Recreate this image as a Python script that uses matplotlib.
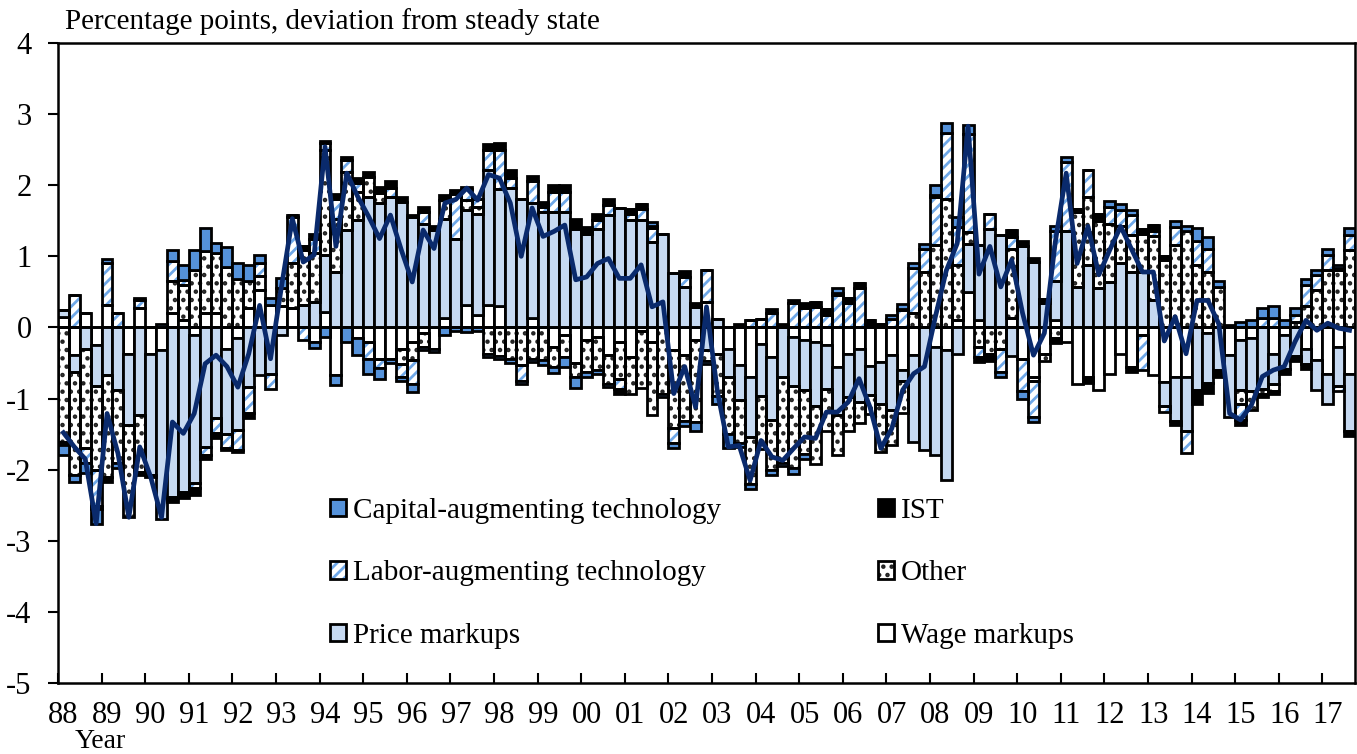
import numpy as np
import matplotlib
matplotlib.use("Agg")
import matplotlib.pyplot as plt
from matplotlib.patches import Patch

plt.rcParams['font.family'] = ['Liberation Serif', 'DejaVu Serif']
plt.rcParams['hatch.linewidth'] = 2.0
plt.rcParams['axes.unicode_minus'] = False

# 1988Q1 .. 2017Q3, quarterly contributions (percentage points)
year_labels = ['88', '89', '90', '91', '92', '93', '94', '95', '96', '97', '98', '99', '00', '01',
               '02', '03', '04', '05', '06', '07', '08', '09', '10', '11', '12', '13', '14', '15',
               '16', '17']

capital = [-0.14, -0.10, -0.15, -0.20, 0.06, -0.07, 0.00, 0.03, 0.00, 0.05,
           0.16, 0.21, 0.28, 0.33, 0.14, 0.28, 0.22, 0.23, 0.12, 0.10,
           0.15, 0.00, 0.00, -0.09, -0.14, -0.14, -0.20, -0.24, -0.20, -0.15,
           -0.06, -0.07, -0.12, -0.05, -0.05, -0.10, -0.05, -0.06, -0.05, -0.04,
           -0.05, -0.05, -0.03, -0.05, -0.07, -0.09, -0.14, -0.15, -0.07, -0.05,
           -0.05, 0.00, 0.00, 0.00, 0.05, -0.05, -0.07, -0.07, -0.12, -0.05,
           -0.10, -0.20, -0.05, -0.07, 0.00, -0.07, -0.05, -0.09, -0.07, 0.00,
           0.00, 0.07, 0.00, 0.00, 0.00, 0.00, 0.05, 0.07, 0.07, 0.07,
           0.14, 0.14, 0.15, 0.12, 0.00, 0.00, -0.07, 0.00, -0.12, -0.07,
           0.00, 0.07, 0.07, 0.00, 0.00, 0.00, 0.09, 0.09, 0.07, 0.00,
           0.00, 0.00, 0.08, 0.07, 0.19, 0.16, 0.09, 0.03, 0.08, 0.10,
           0.14, 0.17, 0.10, 0.10, 0.08, 0.07, 0.09, 0.05, 0.10]
ist = [0.00, 0.00, 0.00, -0.05, -0.07, 0.00, 0.00, -0.05, -0.03, 0.00,
       -0.07, -0.09, -0.09, -0.05, -0.07, -0.03, -0.03, -0.07, 0.00, 0.00,
       0.00, 0.02, 0.05, 0.07, 0.03, 0.07, 0.03, 0.07, 0.07, 0.08,
       0.10, 0.06, 0.02, 0.08, 0.05, 0.07, 0.05, 0.03, 0.00, 0.09,
       0.10, 0.12, 0.00, 0.07, 0.07, 0.09, 0.09, 0.14, 0.09, 0.09,
       0.09, -0.07, 0.07, 0.07, 0.03, 0.00, 0.00, 0.09, 0.05, 0.00,
       0.00, 0.00, 0.05, 0.00, 0.00, 0.06, 0.05, 0.05, 0.07, 0.07,
       0.09, 0.03, 0.07, 0.08, 0.10, 0.05, 0.00, 0.02, 0.00, 0.00,
       0.02, 0.00, 0.00, 0.00, -0.07, -0.10, 0.00, 0.10, 0.07, 0.05,
       0.06, -0.07, 0.00, 0.00, -0.09, 0.05, 0.00, 0.00, -0.07, 0.07,
       0.09, 0.05, -0.05, 0.00, -0.19, -0.14, -0.09, 0.00, -0.07, 0.00,
       -0.05, -0.05, -0.07, -0.07, -0.07, 0.00, 0.00, 0.02, -0.07]
labor = [-0.05, 0.46, -0.20, -0.50, 0.59, 0.20, 0.00, 0.12, 0.00, 0.00,
         0.28, 0.07, -0.07, -0.12, -0.21, -0.19, -0.28, -0.36, 0.17, -0.21,
         0.00, 0.66, -0.18, 0.20, 0.09, 0.28, 0.17, 0.12, -0.25, -0.13,
         0.12, -0.17, -0.33, 0.16, 0.00, 0.00, 0.63, 0.16, 0.10, 0.28,
         0.55, 0.14, -0.23, 0.31, 0.07, 0.28, 0.28, 0.00, 0.00, 0.12,
         0.14, -0.14, 0.09, 0.16, 0.20, 0.00, -0.21, 0.14, 0.00, 0.45,
         0.00, 0.00, 0.00, 0.10, 0.12, 0.20, 0.00, 0.34, 0.27, 0.29,
         0.17, 0.46, 0.34, 0.55, 0.00, 0.00, 0.12, 0.24, 0.63, 0.33,
         0.68, 0.94, 0.53, 1.38, -0.14, 0.21, -0.33, 0.16, -0.45, -0.50,
         0.00, 0.70, 0.97, 0.05, 0.38, 0.05, 0.23, 0.23, 0.28, -0.50,
         0.07, -0.09, 0.25, -0.30, 0.33, 0.33, 0.00, 0.00, -0.23, 0.00,
         0.13, 0.13, 0.00, 0.10, 0.30, 0.21, 0.21, -0.07, 0.21]
other = [-1.61, -1.46, -1.40, -1.19, -1.43, -1.02, -1.29, -0.80, 0.00, 0.00,
         0.45, 0.50, 0.81, 0.87, 0.85, 0.85, 0.68, 0.38, 0.20, 0.00,
         0.25, 0.63, 0.78, 0.68, 1.48, 0.75, 0.82, 0.40, 0.28, 0.14,
         0.00, -0.22, -0.26, -0.19, 0.00, 0.26, 0.00, 0.14, 0.10, -0.37,
         -0.40, -0.45, -0.53, -0.44, -0.46, -0.28, -0.31, -0.20, -0.45, -0.47,
         -0.40, -0.52, -0.52, -0.80, -1.03, -0.93, -1.10, -0.92, -1.15, -0.15,
         -0.60, -0.80, -0.61, -0.66, -0.75, -0.70, -1.20, -1.14, -0.90, -0.82,
         -0.60, -0.56, -0.47, -0.30, -0.27, -0.68, -0.49, -0.45, 0.20, 0.78,
         1.16, 1.80, 0.78, 0.16, -0.27, -0.37, -0.30, 0.98, 0.00, -0.07,
         -0.10, -0.15, 0.00, 1.05, 0.96, 0.94, 0.82, 0.52, 0.52, 0.54,
         0.90, 0.95, 1.16, 1.35, 0.88, 0.78, 0.57, 0.00, -0.19, -0.26,
         -0.07, -0.10, 0.00, 0.07, 0.30, 0.53, 0.81, 0.81, 1.09]
price = [0.10, -0.23, -0.30, -0.57, -0.67, -0.88, -1.00, -1.23, -1.70, -2.38,
         -2.38, -2.31, -2.09, -1.68, -1.28, -1.20, -1.29, -0.84, -0.67, -0.65,
         -0.10, 0.00, 0.31, 0.36, 0.80, 0.78, 1.37, 1.51, 1.84, 1.75,
         1.84, 1.77, 1.56, 1.46, 1.37, 1.40, 1.25, 1.34, 1.43, 1.90,
         1.65, 1.96, 1.80, 1.62, 1.63, 1.63, 1.63, 1.39, 1.32, 1.39,
         1.58, 1.68, 1.51, 1.51, 1.20, 1.32, 0.76, 0.57, 0.29, -0.32,
         0.12, -0.40, -0.49, -0.85, -0.73, -0.89, -0.70, -0.70, -0.70, -0.90,
         -0.61, -0.68, -0.61, -0.75, -0.41, -0.59, -0.77, -0.16, -1.22, -1.73,
         -1.53, -1.83, -0.37, 0.68, 1.06, 1.39, 1.30, -0.40, 1.14, 0.92,
         0.34, 0.56, 1.35, 0.57, 0.88, 0.55, 0.64, 0.90, 0.78, 0.78,
         0.38, -0.33, -0.63, -0.77, -0.88, -0.70, -0.60, -0.87, -0.70, -0.75,
         -0.86, -0.42, -0.49, -0.40, -0.22, -0.42, -0.42, -0.56, -0.80]
wage = [0.15, -0.39, 0.20, -0.25, 0.31, 0.00, -0.37, 0.27, -0.37, -0.32,
        0.20, 0.10, -0.10, 0.20, 0.20, -0.30, -0.15, 0.27, 0.53, 0.31,
        0.30, 0.27, 0.00, -0.20, 0.22, -0.67, 0.00, -0.15, -0.20, -0.44,
        -0.44, -0.30, -0.20, -0.08, -0.30, 0.13, 0.00, 0.31, 0.17, 0.31,
        0.30, 0.00, 0.00, 0.13, 0.00, -0.27, -0.11, -0.50, -0.18, -0.13,
        -0.39, -0.20, -0.41, -0.05, -0.20, 0.00, -0.32, -0.39, -0.18, 0.36,
        -0.37, -0.30, -0.53, -0.69, -0.23, -0.41, 0.00, -0.13, -0.18, -0.20,
        -0.25, -0.55, -0.37, -0.30, -0.54, -0.48, -0.39, -0.60, -0.39, 0.00,
        -0.27, -0.32, 0.10, 0.50, 0.10, 0.00, 0.00, 0.13, -0.44, -0.69,
        -0.37, 0.10, -0.20, -0.79, -0.69, -0.88, -0.65, -0.37, -0.55, -0.10,
        -0.67, -0.77, -0.69, -0.69, 0.00, -0.08, 0.00, -0.39, -0.18, -0.15,
        0.00, -0.37, -0.10, 0.00, -0.30, -0.46, -0.65, -0.27, -0.65]
total = [-1.48, -1.68, -1.85, -2.76, -1.21, -1.77, -2.67, -1.68, -2.10, -2.67,
         -1.33, -1.49, -1.21, -0.51, -0.39, -0.55, -0.84, -0.37, 0.31, -0.44,
         0.57, 1.53, 0.92, 1.02, 2.54, 1.14, 2.17, 1.84, 1.56, 1.25,
         1.58, 1.09, 0.64, 1.37, 1.11, 1.75, 1.80, 1.96, 1.79, 2.15,
         2.10, 1.75, 1.00, 1.68, 1.28, 1.35, 1.44, 0.67, 0.71, 0.90,
         0.97, 0.69, 0.69, 0.88, 0.29, 0.36, -0.93, -0.55, -1.12, 0.29,
         -0.90, -1.68, -1.66, -2.15, -1.59, -1.82, -1.87, -1.70, -1.54, -1.56,
         -1.19, -1.19, -1.05, -0.72, -1.12, -1.70, -1.42, -0.88, -0.65, -0.55,
         0.15, 0.80, 1.18, 2.83, 0.75, 1.14, 0.57, 0.95, 0.20, -0.39,
         -0.08, 1.20, 2.17, 0.90, 1.42, 0.74, 1.09, 1.42, 1.10, 0.78,
         0.78, -0.19, 0.15, -0.37, 0.38, 0.38, 0.05, -1.21, -1.30, -1.09,
         -0.69, -0.60, -0.55, -0.20, 0.10, -0.04, 0.06, -0.01, -0.04]

series = [
    ("Wage markups", wage, dict(facecolor="white")),
    ("Price markups", price, dict(facecolor="#C6D9F1")),
    ("Other", other, dict(facecolor="white", hatch="..", hc="#222222")),
    ("Labor-augmenting technology", labor, dict(facecolor="white", hatch="///", hc="#6FA8E8")),
    ("IST", ist, dict(facecolor="black")),
    ("Capital-augmenting technology", capital, dict(facecolor="#5592DA")),
]

EDGE = 2.0
fig = plt.figure(figsize=(13.57, 7.54), dpi=100)
ax = fig.add_axes([58 / 1357, 1 - 683 / 754, 1297 / 1357, 640 / 754])

n = len(total)
x = np.arange(n)
pos_base = np.zeros(n)
neg_base = np.zeros(n)
handles = {}
for name, vals, st in series:
    v = np.array(vals, dtype=float)
    bottom = np.where(v >= 0, pos_base, neg_base)
    if "hatch" in st:
        ax.bar(x, v, width=1.0, bottom=bottom, color=st["facecolor"], edgecolor=st["hc"],
               hatch=st["hatch"], linewidth=0, zorder=2)
        ax.bar(x, v, width=1.0, bottom=bottom, fill=False, edgecolor="black", linewidth=EDGE, zorder=3)
        handles[name] = (Patch(facecolor=st["facecolor"], edgecolor=st["hc"], hatch=st["hatch"], linewidth=0),
                         Patch(fill=False, edgecolor="black", linewidth=EDGE))
    else:
        ax.bar(x, v, width=1.0, bottom=bottom, color=st["facecolor"], edgecolor="black",
               linewidth=EDGE, zorder=3)
        handles[name] = Patch(facecolor=st["facecolor"], edgecolor="black", linewidth=EDGE)
    pos_base = pos_base + np.where(v >= 0, v, 0)
    neg_base = neg_base + np.where(v < 0, v, 0)

ax.axhline(0, color="black", linewidth=1.8, zorder=4)
ax.plot(x, total, color="#0A2A6C", linewidth=3.4, zorder=5, solid_joinstyle="round")

ax.set_xlim(-0.5, n - 0.5)
ax.set_ylim(-5, 4)
ax.set_yticks(range(-5, 5))
ax.tick_params(axis="y", direction="out", length=7, width=1.5, labelsize=22, pad=12)
ax.set_xticks(np.arange(0, n, 4) - 0.5)
ax.set_xticklabels([])
ax.set_xticks(np.arange(0, n, 4), minor=True)
ax.set_xticklabels(year_labels, minor=True)
ax.tick_params(axis="x", which="major", direction="in", length=7, width=1.5)
ax.tick_params(axis="x", which="minor", length=0, labelsize=22, pad=13)
for s in ax.spines.values():
    s.set_linewidth(1.8)

fig.text(65 / 1357, 1 - 22 / 754, "Percentage points, deviation from steady state",
         fontsize=21, ha="left", va="center")
fig.text(100 / 1357, 1 - 741 / 754, "Year", fontsize=20, ha="center", va="center")

order = ["Capital-augmenting technology", "Labor-augmenting technology", "Price markups",
         "IST", "Other", "Wage markups"]
leg = ax.legend([handles[k] for k in order], order, ncol=2, loc="upper left",
                bbox_to_anchor=((330 - 58) / 1297, (683 - 498) / 640), frameon=False,
                fontsize=21, handlelength=0.55, handleheight=0.55, handletextpad=0.25,
                labelspacing=1.25, columnspacing=5.35, borderaxespad=0, borderpad=0)

fig.savefig("out.png", dpi=100)
